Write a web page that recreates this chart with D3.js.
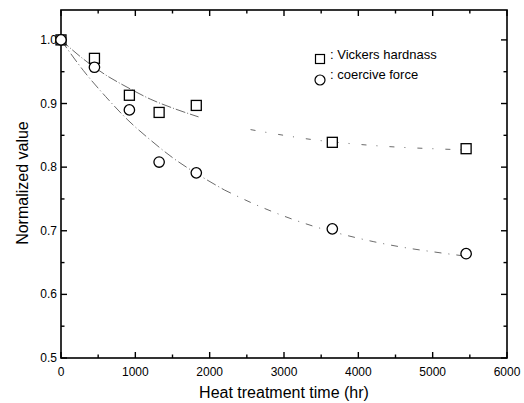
<!DOCTYPE html>
<html>
<head>
<meta charset="utf-8">
<script src="https://cdn.jsdelivr.net/npm/d3@7"></script>
<style>
  body { margin: 0; background: #fff; }
  text { font-family: "Liberation Sans", Arial, sans-serif; fill: #000; }
</style>
</head>
<body>
<div id="chart"></div>
<script>
// data
var hours = [0, 450, 920, 1320, 1820, 3650, 5450];
var vickers = [1.0, 0.971, 0.913, 0.886, 0.897, 0.839, 0.829];
var coercive = [1.0, 0.957, 0.890, 0.808, 0.791, 0.703, 0.664];

// fitted curves
var fitVickersT1 = [0, 300, 600, 900, 1200, 1500, 1850];
var fitVickersV1 = [1.0, 0.970, 0.945, 0.925, 0.907, 0.893, 0.879];
var fitVickersT2 = [2550, 3000, 3400, 3800, 4200, 4600, 5000, 5450];
var fitVickersV2 = [0.859, 0.850, 0.843, 0.838, 0.834, 0.831, 0.829, 0.827];
var fitCoerciveT = [0, 300, 600, 900, 1200, 1500, 1850, 2200, 2600, 3000, 3400, 3800, 4200, 4600, 5000, 5450];
var fitCoerciveV = [1.0, 0.952, 0.911, 0.874, 0.843, 0.815, 0.788, 0.764, 0.742, 0.723, 0.707, 0.694, 0.683, 0.674, 0.667, 0.660];

var xTicks = [0, 1000, 2000, 3000, 4000, 5000, 6000];
var yTicks = [0.5, 0.6, 0.7, 0.8, 0.9, 1.0];

var margin = {top: 10, right: 17, bottom: 45, left: 61},
    width = 524 - margin.left - margin.right,
    height = 403 - margin.top - margin.bottom;

var svg = d3.select("#chart")
  .append("svg")
    .attr("width", 524)
    .attr("height", 403)
  .append("g")
    .attr("transform", "translate(" + margin.left + "," + margin.top + ")");

var x = d3.scaleLinear().domain([0, 6000]).range([0, width]);
var y = d3.scaleLinear().domain([0.5, 1.047]).range([height, 0]);

// inward ticks on all four sides
function tickAxes(g) {
  var lenMaj = 6, lenMin = 3.5;
  var xMin = d3.range(500, 6000, 1000);
  var yMin = d3.range(0.55, 1.04, 0.1);
  g.selectAll(".xt").data(xTicks).enter().append("line")
    .attr("x1", d => x(d)).attr("x2", d => x(d))
    .attr("y1", height).attr("y2", height - lenMaj);
  g.selectAll(".xm").data(xMin).enter().append("line")
    .attr("x1", d => x(d)).attr("x2", d => x(d))
    .attr("y1", height).attr("y2", height - lenMin);
  g.selectAll(".xtt").data(xTicks).enter().append("line")
    .attr("x1", d => x(d)).attr("x2", d => x(d))
    .attr("y1", 0).attr("y2", lenMaj);
  g.selectAll(".xmt").data(xMin).enter().append("line")
    .attr("x1", d => x(d)).attr("x2", d => x(d))
    .attr("y1", 0).attr("y2", lenMin);
  g.selectAll(".yt").data(yTicks).enter().append("line")
    .attr("x1", 0).attr("x2", lenMaj)
    .attr("y1", d => y(d)).attr("y2", d => y(d));
  g.selectAll(".ym").data(yMin).enter().append("line")
    .attr("x1", 0).attr("x2", lenMin)
    .attr("y1", d => y(d)).attr("y2", d => y(d));
  g.selectAll(".ytr").data(yTicks).enter().append("line")
    .attr("x1", width).attr("x2", width - lenMaj)
    .attr("y1", d => y(d)).attr("y2", d => y(d));
  g.selectAll(".ymr").data(yMin).enter().append("line")
    .attr("x1", width).attr("x2", width - lenMin)
    .attr("y1", d => y(d)).attr("y2", d => y(d));
}

var ticks = svg.append("g").attr("stroke", "#000").attr("stroke-width", 1.4);
tickAxes(ticks);

// frame
svg.append("rect")
  .attr("width", width).attr("height", height)
  .attr("fill", "none").attr("stroke", "#000").attr("stroke-width", 1.6);

// tick labels
svg.selectAll(".xl").data(xTicks).enter().append("text")
  .attr("x", d => x(d)).attr("y", height + 18)
  .attr("text-anchor", "middle")
  .style("font-size", "12px")
  .text(d => d);

svg.selectAll(".yl").data(yTicks).enter().append("text")
  .attr("x", -4).attr("y", d => y(d) + 4)
  .attr("text-anchor", "end")
  .style("font-size", "12px")
  .text(d => d3.format(".1f")(d));

// axis titles
svg.append("text")
  .attr("x", width / 2).attr("y", height + 40)
  .attr("text-anchor", "middle")
  .style("font-size", "16px")
  .text("Heat treatment time (hr)");

svg.append("text")
  .attr("transform", "rotate(-90)")
  .attr("x", -(y(0.775)))
  .attr("y", -margin.left + 28)
  .attr("text-anchor", "middle")
  .style("font-size", "16px")
  .text("Normalized value");

// fit lines
var line = d3.line().x(d => x(d[0])).y(d => y(d[1])).curve(d3.curveMonotoneX);
var coerciveFit = d3.zip(fitCoerciveT, fitCoerciveV);

function fitPath(pts, dash) {
  svg.append("path")
    .datum(pts)
    .attr("d", line)
    .attr("fill", "none").attr("stroke", "#444").attr("stroke-width", 0.8)
    .attr("stroke-dasharray", dash);
}

fitPath(d3.zip(fitVickersT1, fitVickersV1), "10,2,1,2");
fitPath(d3.zip(fitVickersT2, fitVickersV2), "5,10,1,12");
fitPath(coerciveFit.filter(d => d[0] <= 2200), "10,3,1,3");
fitPath(coerciveFit.filter(d => d[0] >= 2200), "7,7,1,7");

// markers
var sq = 10;
svg.selectAll(".sq").data(d3.zip(hours, vickers)).enter().append("rect")
  .attr("x", d => x(d[0]) - sq / 2).attr("y", d => y(d[1]) - sq / 2)
  .attr("width", sq).attr("height", sq)
  .attr("fill", "#fff").attr("stroke", "#000").attr("stroke-width", 1.3);

svg.selectAll(".ci").data(d3.zip(hours, coercive)).enter().append("circle")
  .attr("cx", d => x(d[0])).attr("cy", d => y(d[1]))
  .attr("r", 5.2)
  .attr("fill", "#fff").attr("stroke", "#000").attr("stroke-width", 1.3);

// legend
var lg = svg.append("g").attr("transform", "translate(" + (320 - margin.left) + "," + (59 - margin.top) + ")");
lg.append("rect").attr("x", -4.5).attr("y", -4.5).attr("width", 9).attr("height", 9)
  .attr("fill", "#fff").attr("stroke", "#000").attr("stroke-width", 1.2);
lg.append("circle").attr("cx", 0).attr("cy", 21).attr("r", 5)
  .attr("fill", "#fff").attr("stroke", "#000").attr("stroke-width", 1.2);
lg.append("text").attr("x", 10).attr("y", 0).style("font-size", "13px").text(": Vickers hardnass");
lg.append("text").attr("x", 10).attr("y", 20).style("font-size", "13px").text(": coercive force");
</script>
</body>
</html>
